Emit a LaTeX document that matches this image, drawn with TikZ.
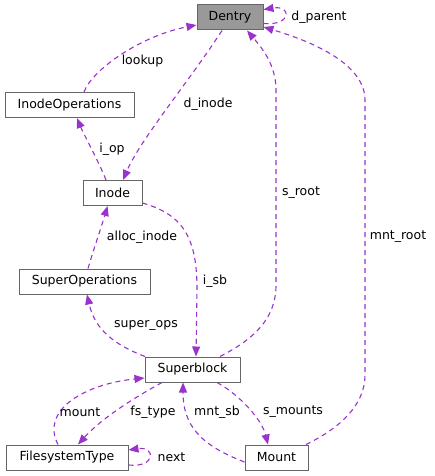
\documentclass[tikz,border=0pt]{standalone}
\usepackage{fontspec}
\setmainfont{DejaVu Sans}
\usetikzlibrary{arrows.meta}
\definecolor{edgepurple}{HTML}{9A32CD}
\definecolor{boxgray}{HTML}{666666}
\definecolor{fillgray}{HTML}{999999}
\newcommand{\dxfont}{\fontsize{12.5}{15}\selectfont}
\begin{document}
\begin{tikzpicture}[x=1pt, y=-1pt,
		cls/.style={draw=boxgray, line width=1pt, fill=white, minimum height=25pt, inner sep=0pt, font=\dxfont},
		member/.style={draw=edgepurple, line width=1.1pt, dash pattern=on 5pt off 4pt, -{Triangle[length=10pt, width=8pt]}},
		lbl/.style={inner sep=0pt, font=\dxfont}]
			\useasboundingbox (0,0) rectangle (434,476);
			
			% Draw Classes
			\node[cls, fill=fillgray, minimum width=66pt] (dentry) at (230,17.5) {Dentry};
			\node[cls, minimum width=129pt] (iops) at (69.5,105) {InodeOperations};
			\node[cls, minimum width=59pt] (inode) at (112.5,193) {Inode};
			\node[cls, minimum width=131pt] (sops) at (84.5,281.5) {SuperOperations};
			\node[cls, minimum width=95pt] (sblock) at (192.5,369.5) {Superblock};
			\node[cls, minimum width=122pt] (fstype) at (67,457.5) {FilesystemType};
			\node[cls, minimum width=63pt] (mount) at (276.5,457.5) {Mount};
			
			% Draw Members (dashed, arrow at the pointed-to class)
			\draw[member] ([xshift=14.5pt]iops.north) .. controls (92,70) and (140,36) .. ([yshift=-7.5pt]dentry.west);
			\node[lbl] (lookup) at (142.5,61) {lookup};
			
			\draw[member] ([xshift=-8pt]dentry.south) .. controls (190,80) and (140,140) .. ([xshift=10.5pt]inode.north);
			\node[lbl] (dinode) at (208,104) {d\_inode};
			
			\draw[member] ([xshift=-6.5pt]inode.north) .. controls (98,160) and (84,135) .. ([xshift=7.5pt]iops.south);
			\node[lbl] (iop) at (112,149) {i\_op};
			
			\draw[member] ([xshift=27.5pt]sblock.north) .. controls (252,340) and (276,320) .. (276,285) -- (276,90) .. controls (276,65) and (262,48) .. ([xshift=17pt]dentry.south);
			\node[lbl] (sroot) at (301,193) {s\_root};
			
			\draw[member] ([xshift=29.5pt]mount.north) .. controls (340,428) and (365,405) .. (365,375) -- (365,100) .. controls (365,60) and (300,38) .. ([yshift=-9.5pt]dentry.east);
			\node[lbl] (mntroot) at (398,237) {mnt\_root};
			
			\draw[member] ([yshift=-6pt]dentry.east) .. controls (292,26) and (292,5) .. ([yshift=-5pt]dentry.north east);
			\node[lbl] (dparent) at (319,17) {d\_parent};
			
			\draw[member] ([yshift=-10pt]inode.east) .. controls (185,215) and (197,240) .. (197,290) -- ([xshift=3.5pt]sblock.north);
			\node[lbl] (isb) at (215,281) {i\_sb};
			
			\draw[member] ([xshift=3.5pt]sops.north) .. controls (95,245) and (102,225) .. ([xshift=-5pt]inode.south);
			\node[lbl] (allocinode) at (142,237) {alloc\_inode};
			
			\draw[member] ([xshift=-47.5pt]sblock.north) .. controls (115,345) and (95,330) .. ([xshift=2.5pt]sops.south);
			\node[lbl] (superops) at (146,325) {super\_ops};
			
			\draw[member] ([xshift=-9pt]fstype.north) .. controls (40,410) and (85,384) .. ([yshift=-8.5pt]sblock.west);
			\node[lbl] (mountlbl) at (80,412) {mount};
			
			\draw[member] ([xshift=-30.5pt]sblock.south) .. controls (130,400) and (100,420) .. ([xshift=11pt]fstype.north);
			\node[lbl] (fstypelbl) at (153,412) {fs\_type};
			
			\draw[member] ([yshift=-4.5pt]mount.west) .. controls (200,445) and (183,425) .. ([xshift=-9.5pt]sblock.south);
			\node[lbl] (mntsb) at (217,412) {mnt\_sb};
			
			\draw[member] ([xshift=24.5pt]sblock.south) .. controls (240,395) and (262,420) .. ([xshift=-8.5pt]mount.north);
			\node[lbl] (smounts) at (293,412) {s\_mounts};
			
			\draw[member] ([yshift=-7.5pt]fstype.east) .. controls (156,468) and (156,446) .. ([yshift=7.5pt]fstype.east);
			\node[lbl] (next) at (171.5,457) {next};
		\end{tikzpicture}
\end{document}
